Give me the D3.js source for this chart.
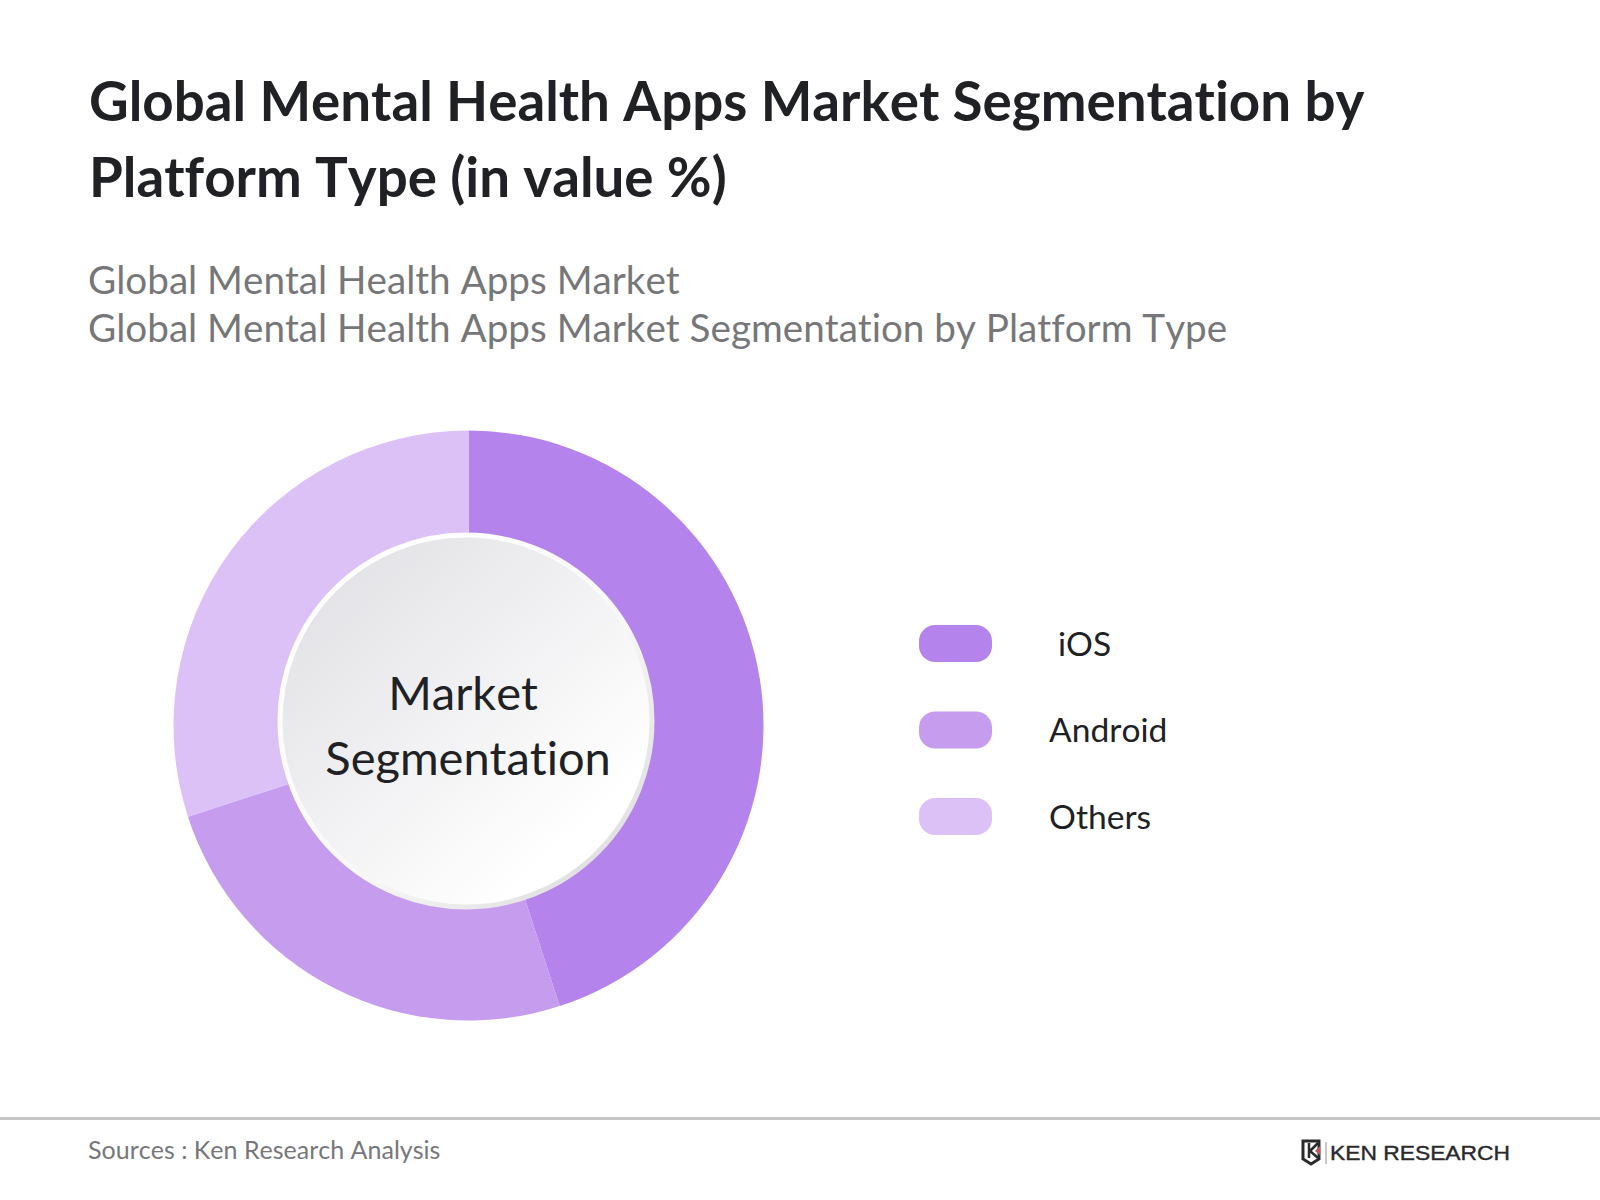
<!DOCTYPE html>
<html>
<head>
<meta charset="utf-8">
<script src="https://cdn.jsdelivr.net/npm/d3@7"></script>
<style>
  html, body { margin: 0; padding: 0; background: #fff; }
  text { font-family: Lato, sans-serif; font-variant-ligatures: none; font-kerning: none; }
</style>
</head>
<body>
<svg id="chart" width="1600" height="1200"></svg>
<script>
const titleLines = ["Global Mental Health Apps Market Segmentation by", "Platform Type (in value %)"]
const subtitleLines = ["Global Mental Health Apps Market", "Global Mental Health Apps Market Segmentation by Platform Type"]
const categories = ["iOS", "Android", "Others"]
const shares = [45, 25, 30]
const colors = ["#b583ec", "#c59cee", "#dcc1f7"]
const centerLines = ["Market", "Segmentation"]
const source = "Sources : Ken Research Analysis"

const svg = d3.select("#chart")

// title + subtitle
svg.selectAll("text.title").data(titleLines).enter().append("text")
  .attr("class", "title")
  .attr("x", 89)
  .attr("y", (d, i) => 121 + i * 76)
  .attr("font-size", 54.7)
  .attr("font-weight", 700)
  .attr("fill", "#202124")
  .text(d => d)

svg.selectAll("text.sub").data(subtitleLines).enter().append("text")
  .attr("class", "sub")
  .attr("x", 88)
  .attr("y", (d, i) => 294 + i * 48)
  .attr("font-size", 38.65)
  .attr("fill", "#77777a")
  .text(d => d)

// donut
const pie = d3.pie().sort(null).value(d => d)
const arc = d3.arc().innerRadius(0).outerRadius(295)
const color = d3.scaleOrdinal(categories, colors)

const donut = svg.append("g").attr("transform", "translate(468.5,725.5)")
donut.selectAll("path").data(pie(shares)).enter().append("path")
  .attr("d", arc)
  .attr("fill", (d, i) => color(categories[i]))

// centre disc
const defs = svg.append("defs")
const fillGrad = defs.append("linearGradient").attr("id", "discFill")
  .attr("x1", "12%").attr("y1", "12%").attr("x2", "78%").attr("y2", "82%")
fillGrad.append("stop").attr("offset", "0%").attr("stop-color", "#e3e3e7")
fillGrad.append("stop").attr("offset", "100%").attr("stop-color", "#ffffff")
const rimGrad = defs.append("linearGradient").attr("id", "discRim")
  .attr("x1", "15%").attr("y1", "15%").attr("x2", "85%").attr("y2", "85%")
rimGrad.append("stop").attr("offset", "0%").attr("stop-color", "#ffffff")
rimGrad.append("stop").attr("offset", "60%").attr("stop-color", "#f8f8f8")
rimGrad.append("stop").attr("offset", "100%").attr("stop-color", "#e2e2e4")

svg.append("circle")
  .attr("cx", 466).attr("cy", 721).attr("r", 186)
  .attr("fill", "url(#discFill)")
  .attr("stroke", "url(#discRim)")
  .attr("stroke-width", 5)

svg.selectAll("text.center").data(centerLines).enter().append("text")
  .attr("class", "center")
  .attr("x", (d, i) => i ? 468 : 463)
  .attr("y", (d, i) => 710 + i * 65)
  .attr("text-anchor", "middle")
  .attr("font-size", 47)
  .attr("fill", "#202124")
  .text(d => d)

// legend
const legendY = d3.scalePoint().domain(categories).range([643.5, 816.5])
const legend = svg.selectAll("g.legend").data(categories).enter().append("g")
  .attr("class", "legend")
  .attr("transform", d => `translate(0,${legendY(d)})`)
legend.append("rect")
  .attr("x", 919).attr("y", -18.5).attr("width", 73).attr("height", 37)
  .attr("rx", 16)
  .attr("fill", d => color(d))
legend.append("text")
  .attr("x", d => d === "iOS" ? 1058 : 1049)
  .attr("y", 12)
  .attr("font-size", 33.6)
  .attr("fill", "#202124")
  .text(d => d)

// footer
svg.append("line")
  .attr("x1", 0).attr("x2", 1600).attr("y1", 1118.5).attr("y2", 1118.5)
  .attr("stroke", "#c4c4c4").attr("stroke-width", 3)
svg.append("text")
  .attr("x", 88).attr("y", 1158.5)
  .attr("font-size", 25)
  .attr("fill", "#77777a")
  .text(source)

// logo
const logo = svg.append("g").attr("transform", "translate(1303,1141)")
logo.append("path")
  .attr("d", "M0,0H16V18L8,23L0,18Z")
  .attr("fill", "#fff").attr("stroke", "#2a2a2d").attr("stroke-width", 3)
logo.append("path").attr("d", "M6,2V17M15,2L7,10L15,17").attr("fill", "none").attr("stroke", "#2a2a2d").attr("stroke-width", 2.5)
logo.append("path").attr("d", "M17,5L12,10L17,14Z").attr("fill", "#c9515f")
logo.append("line").attr("x1", 23).attr("x2", 23).attr("y1", 1).attr("y2", 23).attr("stroke", "#9a8a8c").attr("stroke-width", 1)
logo.append("text")
  .attr("x", 27).attr("y", 18.5)
  .attr("textLength", 180).attr("lengthAdjust", "spacingAndGlyphs")
  .attr("font-size", 21)
  .attr("fill", "#2a2a2d")
  .attr("stroke", "#2a2a2d")
  .attr("stroke-width", 0.4)
  .style("font-family", "'Liberation Sans', sans-serif")
  .text("KEN RESEARCH")
</script>
</body>
</html>
